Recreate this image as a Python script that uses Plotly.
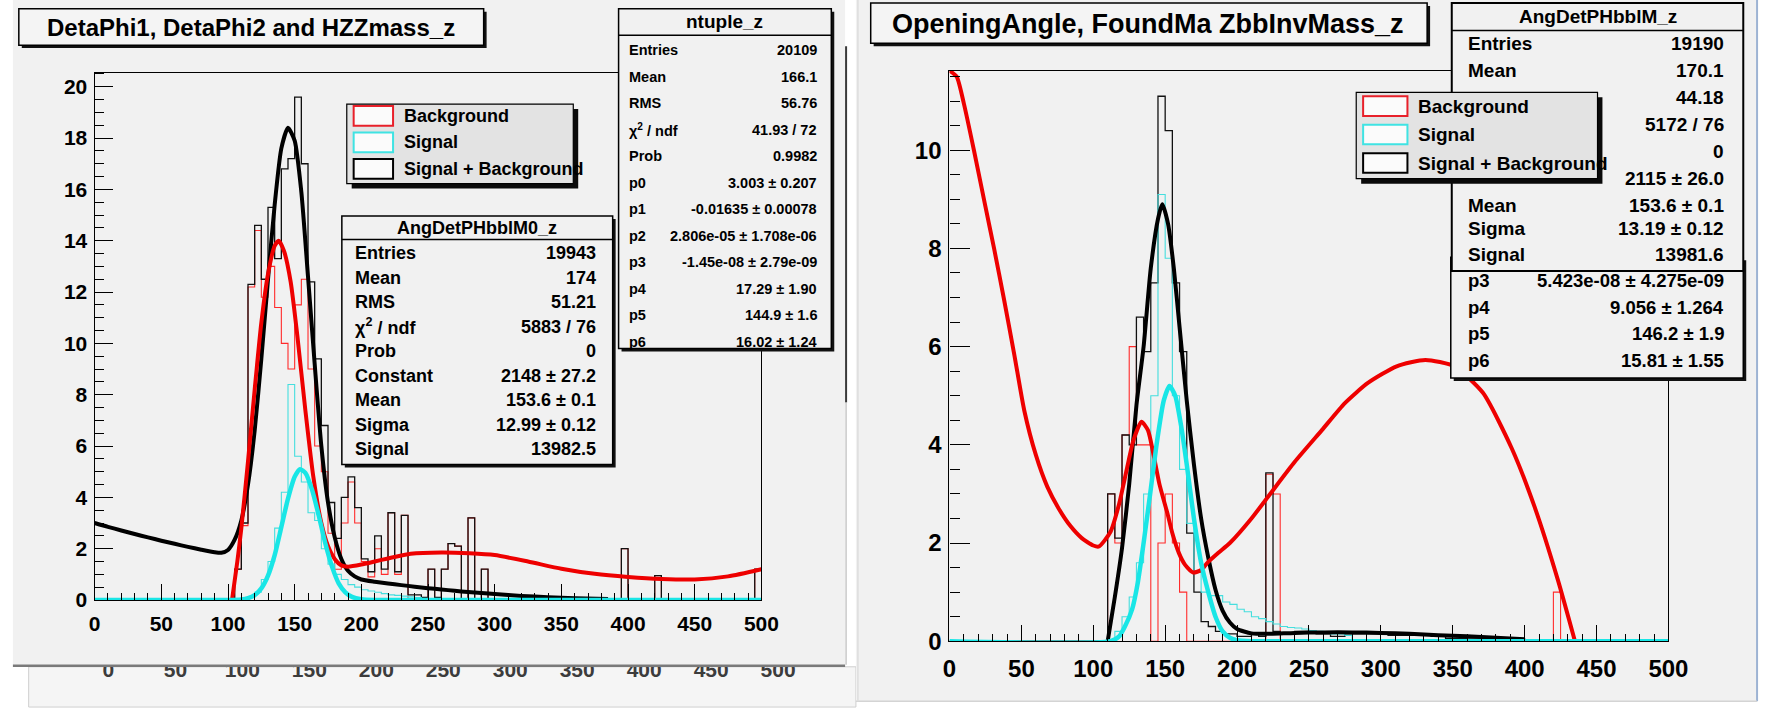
import plotly.graph_objects as go

W, H = 1781, 722
FONT = "Liberation Sans"
PAD = "#f1f1f1"

# ---------------- data : left panel (DetaPhi1, DetaPhi2 and HZZmass_z) ----------------
BIN_W = 5.0
L_bkg_lo = [105, 110, 115, 120, 125, 130, 135, 140, 145, 150, 155, 160, 165, 170, 175, 180, 185, 190, 195, 200,
            205, 210, 215, 220, 225, 230, 250, 260, 265, 270, 280, 290, 395, 420, 495]
L_bkg_val = [1.2, 2.9, 12.2, 14.4, 11.8, 13.0, 11.4, 10.0, 9.0, 11.5, 12.5, 9.0, 6.0, 5.0, 2.6, 1.2, 3.0, 4.6, 3.0, 1.5,
             0.9, 2.0, 1.0, 3.4, 1.0, 3.3, 1.2, 1.2, 2.2, 2.1, 3.2, 1.2, 2.0, 0.95, 1.2]
L_tot_lo = [105, 110, 115, 120, 125, 130, 135, 140, 145, 150, 155, 160, 165, 170, 175, 180, 185, 190, 195, 200,
            205, 210, 215, 220, 225, 230, 235, 240, 245, 250, 255, 260, 265, 270, 280, 290, 395, 420, 495]
L_tot_val = [1.2, 3.0, 12.3, 14.6, 12.5, 15.3, 13.3, 16.8, 17.2, 19.6, 17.0, 12.4, 9.4, 6.8, 3.8, 2.4, 4.0, 4.8, 3.6, 1.6,
             1.1, 2.5, 1.2, 3.4, 1.1, 3.3, 0.2, 0.2, 0.1, 1.2, 0.1, 1.2, 2.2, 2.1, 3.2, 1.2, 2.0, 0.95, 1.2]
L_sig_lo = [115, 120, 125, 130, 135, 140, 145, 150, 155, 160, 165, 170, 175, 180, 185, 190, 195, 200, 205, 210,
            215, 220, 225, 230, 235, 240]
L_sig_val = [0.1, 0.3, 0.8, 1.5, 2.8, 4.2, 8.4, 5.6, 4.6, 3.4, 3.1, 2.0, 1.4, 1.0, 0.8, 0.6, 0.5, 0.4, 0.35, 0.3,
             0.25, 0.2, 0.18, 0.15, 0.12, 0.1]

L_tot_fx = [0, 10, 20, 30, 40, 50, 60, 70, 80, 90, 95, 100, 105, 110, 115, 120, 125, 130, 135, 140,
            145, 150, 155, 160, 165, 170, 175, 180, 185, 190, 195, 200, 210, 220, 230, 240, 250, 260, 270, 280,
            290, 300, 320, 340, 360, 385]
L_tot_fy = [3.0, 2.85, 2.71, 2.57, 2.44, 2.31, 2.19, 2.07, 1.96, 1.86, 1.84, 1.95, 2.35, 3.1, 4.5, 6.6, 9.4, 12.5, 15.4, 17.6,
            18.4, 17.9, 15.9, 12.6, 9.2, 6.0, 3.8, 2.45, 1.6, 1.14, 0.92, 0.8, 0.71, 0.64, 0.58, 0.52, 0.46, 0.41, 0.36, 0.31,
            0.27, 0.23, 0.16, 0.11, 0.07, 0.04]
L_bkg_fx = [103, 107, 110, 115, 120, 125, 130, 135, 138, 142, 147, 152, 158, 164, 170, 175, 180, 185, 190, 200,
            210, 220, 237, 260, 281, 300, 325, 350, 375, 400, 425, 450, 475, 500]
L_bkg_fy = [0.0, 1.5, 2.8, 5.4, 8.2, 10.8, 12.7, 13.8, 14.0, 13.6, 12.4, 10.3, 7.4, 4.8, 3.0, 2.1, 1.6, 1.35, 1.3, 1.38,
            1.5, 1.62, 1.8, 1.85, 1.82, 1.75, 1.5, 1.22, 1.02, 0.9, 0.82, 0.8, 0.92, 1.2]
L_sig_fx = [0, 100, 110, 115, 120, 125, 130, 135, 140, 145, 150, 154, 158, 163, 168, 173, 178, 183, 188, 193,
            200, 210, 500]
L_sig_fy = [0, 0, 0.02, 0.07, 0.19, 0.45, 0.95, 1.75, 2.85, 3.95, 4.8, 5.1, 4.95, 4.3, 3.3, 2.2, 1.3, 0.65, 0.3, 0.12,
            0.03, 0, 0]

# ---------------- data : right panel (OpeningAngle, FoundMa ZbbInvMass_z) ----------------
R_bkg_lo = [110, 115, 120, 125, 130, 135, 145, 150, 155, 160, 220, 225, 420]
R_bkg_val = [3.0, 2.0, 4.2, 6.0, 4.0, 4.0, 2.0, 3.0, 2.0, 1.0, 3.4, 3.0, 1.0]
R_tot_lo = [110, 115, 120, 125, 130, 135, 140, 145, 150, 155, 160, 165, 170, 175, 180, 185, 190, 195, 200, 205,
            210, 215, 220, 225, 230, 235, 240, 245, 250, 255, 260, 265, 270, 275, 280, 285, 290, 295, 300, 305,
            310, 315, 320, 325, 330, 335, 340, 345, 350, 355, 360, 365, 370, 375, 380, 385, 390, 395]
R_tot_val = [3.0, 2.1, 4.2, 4.0, 6.6, 5.9, 7.3, 11.1, 10.4, 7.3, 5.9, 2.2, 1.0, 0.4, 0.3, 0.2, 0.15, 0.15, 0.1, 0.1,
             0.15, 0.1, 3.43, 0.2, 0.15, 0.15, 0.2, 0.2, 0.2, 0.15, 0.15, 0.1, 0.1, 0.15, 0.15, 0.15, 0.15, 0.15, 0.15, 0.12,
             0.12, 0.12, 0.12, 0.12, 0.12, 0.1, 0.1, 0.06, 0.06, 0.06, 0.05, 0.05, 0.05, 0.05, 0.05, 0.05, 0.05, 0.05]
R_sig_lo = [115, 120, 125, 130, 135, 140, 145, 150, 155, 160, 165, 170, 175, 180, 185, 190, 195, 200, 205, 210,
            215, 220, 225, 230, 235, 240, 245, 250, 255, 260, 265, 270, 275]
R_sig_val = [0.2, 0.5, 0.9, 1.6, 3.0, 5.0, 9.1, 7.8, 5.0, 3.5, 2.4, 1.4, 1.0, 0.93, 0.93, 0.8, 0.75, 0.65, 0.6, 0.5,
             0.46, 0.4, 0.35, 0.3, 0.28, 0.27, 0.25, 0.22, 0.2, 0.18, 0.15, 0.15, 0.12]

R_bkg_fx = [0, 5, 10, 17, 25, 31, 38, 45, 52, 60, 68, 76, 84, 92, 100, 104, 112, 118, 123.5, 128,
            133.5, 138, 141.5, 146, 151.6, 155, 159.5, 164, 169.5, 175, 179.5, 187, 195, 210, 223, 240, 259, 275, 291, 311,
            331, 351, 371, 391, 407, 423, 435]
R_bkg_fy = [11.62, 11.5, 10.95, 10.0, 8.85, 8.0, 6.95, 5.85, 4.7, 3.8, 3.15, 2.7, 2.35, 2.1, 1.95, 1.93, 2.23, 2.8, 3.53, 4.1,
            4.47, 4.3, 3.86, 3.2, 2.6, 2.2, 1.8, 1.55, 1.4, 1.45, 1.6, 1.8, 2.0, 2.5, 3.0, 3.65, 4.3, 4.85, 5.26, 5.6,
            5.73, 5.6, 5.06, 3.93, 2.73, 1.26, 0.0]
R_tot_fx = [110, 115, 120, 125, 130, 135, 140, 145, 148, 152, 156, 160, 165, 170, 175, 180, 185, 190, 195, 200,
            210, 220, 240, 260, 280, 300, 320, 340, 360, 380, 400]
R_tot_fy = [0.0, 0.9, 1.9, 3.2, 4.8, 6.0, 7.6, 8.6, 8.9, 8.5, 7.6, 6.4, 4.9, 3.6, 2.5, 1.7, 1.05, 0.62, 0.38, 0.25,
            0.16, 0.15, 0.17, 0.18, 0.18, 0.17, 0.15, 0.12, 0.1, 0.07, 0.04]
R_sig_fx = [0, 112, 118, 122, 127, 131, 135, 140, 144, 149, 153, 157, 161, 165, 170, 175, 180, 185, 190, 195,
            200, 210, 500]
R_sig_fy = [0, 0, 0.1, 0.3, 0.65, 1.2, 2.0, 3.1, 4.0, 4.9, 5.2, 5.0, 4.4, 3.6, 2.5, 1.6, 1.0, 0.5, 0.2, 0.07,
            0.02, 0, 0]

X_TICKS = [0, 50, 100, 150, 200, 250, 300, 350, 400, 450, 500]
L_Y_TICKS = [0, 2, 4, 6, 8, 10, 12, 14, 16, 18, 20]
R_Y_TICKS = [0, 2, 4, 6, 8, 10]

# stats boxes text
NT_LABELS = ["Entries", "Mean", "RMS", "χ<sup>2</sup> / ndf", "Prob", "p0", "p1", "p2", "p3", "p4", "p5", "p6"]
NT_VALUES = ["20109", "166.1", "56.76", "41.93 / 72", "0.9982", "3.003 ± 0.207", "-0.01635 ± 0.00078",
             "2.806e-05 ± 1.708e-06", "-1.45e-08 ± 2.79e-09", "17.29 ± 1.90", "144.9 ± 1.6", "16.02 ± 1.24"]
M0_LABELS = ["Entries", "Mean", "RMS", "χ<sup>2</sup> / ndf", "Prob", "Constant", "Mean", "Sigma", "Signal"]
M0_VALUES = ["19943", "174", "51.21", "5883 / 76", "0", "2148 ± 27.2", "153.6 ± 0.1", "12.99 ± 0.12", "13982.5"]
M_LABELS = ["Entries", "Mean", "", "", "", "", "Mean", "Sigma", "Signal"]
M_VALUES = ["19190", "170.1", "44.18", "5172 / 76", "0", "2115 ± 26.0", "153.6 ± 0.1", "13.19 ± 0.12", "13981.6"]
MP_LABELS = ["p3", "p4", "p5", "p6"]
MP_VALUES = ["5.423e-08 ± 4.275e-09", "9.056 ± 1.264", "146.2 ± 1.9", "15.81 ± 1.55"]
LEG_LABELS = ["Background", "Signal", "Signal + Background"]
LEG_COLORS = ["#e8202a", "#3fe3e3", "#000000"]


def px(x):
    return x / W


def py(y):
    return 1 - y / H


def hist_steps(lo_list, vals, nbins=100):
    y = [0.0] * nbins
    for lo, v in zip(lo_list, vals):
        y[int(round(lo / BIN_W))] = v
    x = [i * BIN_W for i in range(nbins + 1)]
    return x, y + [y[-1]]


fig = go.Figure()


def add_hist(lo, vals, color, width, xa, ya):
    x, y = hist_steps(lo, vals)
    fig.add_trace(go.Scatter(x=x, y=y, mode="lines", line=dict(color=color, width=width, shape="hv"),
                             xaxis=xa, yaxis=ya, hoverinfo="skip", showlegend=False))


def add_curve(x, y, color, width, xa, ya):
    fig.add_trace(go.Scatter(x=x, y=y, mode="lines",
                             line=dict(color=color, width=width, shape="spline", smoothing=0.6),
                             xaxis=xa, yaxis=ya, hoverinfo="skip", showlegend=False))


RED_H, CYAN_H = "#ff2b2b", "#45dede"
RED_C, CYAN_C = "#ee0000", "#19e6e6"

# left
add_hist(L_bkg_lo, L_bkg_val, RED_H, 1.1, "x", "y")
add_hist(L_tot_lo, L_tot_val, "#111111", 1.3, "x", "y")
add_hist(L_sig_lo, L_sig_val, CYAN_H, 1.1, "x", "y")
add_curve(L_tot_fx, L_tot_fy, "#000000", 4, "x", "y")
add_curve(L_bkg_fx, L_bkg_fy, RED_C, 4, "x", "y")
add_curve(L_sig_fx, L_sig_fy, CYAN_C, 4.5, "x", "y")
# right
add_hist(R_bkg_lo, R_bkg_val, RED_H, 1.1, "x2", "y2")
add_hist(R_tot_lo, R_tot_val, "#111111", 1.3, "x2", "y2")
add_hist(R_sig_lo, R_sig_val, CYAN_H, 1.1, "x2", "y2")
add_curve(R_tot_fx, R_tot_fy, "#000000", 4, "x2", "y2")
add_curve(R_bkg_fx, R_bkg_fy, RED_C, 4, "x2", "y2")
add_curve(R_sig_fx, R_sig_fy, CYAN_C, 4.5, "x2", "y2")
# ghost tick labels peeking out below the left pad (clipped by their own small subplot)
fig.add_trace(go.Scatter(x=X_TICKS, y=[0.62] * len(X_TICKS), mode="text", text=[str(v) for v in X_TICKS],
                         textposition="middle center", cliponaxis=True,
                         textfont=dict(family=FONT, size=21, color="#3c3c3c", weight="bold"),
                         xaxis="x3", yaxis="y3", hoverinfo="skip", showlegend=False))

shapes = []
annotations = []


def rect(x0, y0, x1, y1, fill="rgba(0,0,0,0)", lc="rgba(0,0,0,0)", lw=0, layer="above"):
    shapes.append(dict(type="rect", xref="paper", yref="paper", x0=px(x0), x1=px(x1), y0=py(y1), y1=py(y0),
                       fillcolor=fill, line=dict(color=lc, width=lw), layer=layer))


def seg(x0, y0, x1, y1, color, lw, layer="above"):
    shapes.append(dict(type="line", xref="paper", yref="paper", x0=px(x0), x1=px(x1), y0=py(y0), y1=py(y1),
                       line=dict(color=color, width=lw), layer=layer))


def text(x, y, s, size, anchor="left", color="black", bold=True):
    annotations.append(dict(x=px(x), y=py(y), xref="paper", yref="paper", text=s, showarrow=False,
                            xanchor=anchor, yanchor="middle",
                            font=dict(family=FONT, size=size, color=color, weight="bold" if bold else "normal")))


# ---- background pads ----
rect(6, 0, 851, 677, fill=PAD, layer="below")
rect(22, 679, 862, 720, fill="#f5f5f5", lc="#cfcfcf", lw=1, layer="below")
rect(862, 0, 1777, 714, fill=PAD, layer="below")
seg(1777, 0, 1777, 714, "#9db3d3", 2, layer="below")
seg(862, 714, 1777, 714, "#d4d4d4", 1.5, layer="below")
seg(864, 0, 864, 714, "#dddddd", 1.5, layer="below")

# pad bottom edge and right-hand edge lines
seg(6, 678, 851, 678, "#7a7a7a", 2.5)
seg(852, 47, 852, 410, "#3a3a3a", 2)
seg(852, 410, 852, 677, "#c8c8c8", 1.5)


def box(x0, y0, x1, y1, fill=PAD, shadow=3, lw=1.5):
    if shadow:
        rect(x0 + shadow, y0 + shadow, x1 + shadow, y1 + shadow, fill="#111111")
    rect(x0, y0, x1, y1, fill=fill, lc="#000000", lw=lw)


# ---- titles ----
box(12, 9, 484, 46, fill="#f4f4f4", shadow=3)
text(248, 28, "DetaPhi1, DetaPhi2 and HZZmass_z", 24, anchor="center")
box(877, 3, 1442, 44, fill="#f4f4f4", shadow=3)
text(1159, 24, "OpeningAngle, FoundMa ZbbInvMass_z", 27, anchor="center")

# ---- left: AngDetPHbblM0_z stats ----
box(340, 220, 615, 473, shadow=3)
seg(340, 244, 615, 244, "#000000", 1.5)
text(477, 232, "AngDetPHbblM0_z", 18, anchor="center")
for i, (lab, val) in enumerate(zip(M0_LABELS, M0_VALUES)):
    yy = 258 + i * 24.9
    text(351, yy, lab, 18)
    text(600, yy, val, 18, anchor="right")

# ---- left: ntuple_z stats ----
box(621, 9, 837, 355, shadow=3)
seg(621, 36, 837, 36, "#000000", 1.5)
text(729, 22, "ntuple_z", 19, anchor="center")
for i, (lab, val) in enumerate(zip(NT_LABELS, NT_VALUES)):
    yy = 51 + i * 27.0
    text(630, yy, lab, 14.5)
    text(824, yy, val, 14.5, anchor="right")


# ---- legends ----
def legend(x0, y0, x1, y1, mx0, mx1, rows, mh, tx, size, sh):
    rect(x0 + sh, y0 + sh, x1 + sh, y1 + sh, fill="#0a0a0a")
    rect(x0, y0, x1, y1, fill="#e3e3e3", lc="#000000", lw=1.2)
    for (yc, lab, col) in zip(rows, LEG_LABELS, LEG_COLORS):
        rect(mx0, yc - mh / 2, mx1, yc + mh / 2, fill="#fbfbfb", lc=col, lw=2)
        text(tx, yc, lab, size)


legend(345, 106, 575, 187, 352, 392, [118, 145, 172], 20, 401, 18, 5)

# ---- right: stats boxes ----
box(1466, 262, 1763, 385, shadow=3)
for i, (lab, val) in enumerate(zip(MP_LABELS, MP_VALUES)):
    yy = 286 + i * 27.0
    text(1481, yy, lab, 18.5)
    text(1745, yy, val, 18.5, anchor="right")
box(1467, 3, 1763, 276, shadow=0, lw=2)
seg(1467, 31, 1763, 31, "#000000", 1.5)
text(1615, 17, "AngDetPHbblM_z", 19, anchor="center")
M_ROWS = [44, 72, 99, 127, 154, 182, 209, 233, 259]
for lab, val, yy in zip(M_LABELS, M_VALUES, M_ROWS):
    if lab:
        text(1481, yy, lab, 19)
    text(1745, yy, val, 19, anchor="right")

legend(1370, 94, 1615, 182, 1377, 1422, [108, 137, 166], 20, 1431, 19, 5)

# ---- axes ----
common = dict(showgrid=False, zeroline=False, showline=True, linecolor="black", linewidth=1.3, mirror=True,
              ticks="inside", tickcolor="black", tickwidth=1.3)
minor_x = dict(dtick=10, ticklen=7, ticks="inside", tickcolor="black", tickwidth=1)
minor_y = dict(dtick=0.5, ticklen=9, ticks="inside", tickcolor="black", tickwidth=1)

GX0, GX1 = 83, 803  # ghost label strip (x=0 sits at 103 px, x=500 at 783 px)
G_SCALE = (783 - 103) / 500.0

fig.update_layout(
    width=W, height=H, autosize=False,
    margin=dict(l=0, r=0, t=0, b=0),
    paper_bgcolor="#ffffff", plot_bgcolor=PAD,
    showlegend=False,
    xaxis=dict(domain=[px(89), px(766)], range=[0, 500], anchor="y", tickvals=X_TICKS, ticklen=16,
               minor=minor_x, ticklabelstandoff=5,
               tickfont=dict(family=FONT, size=21, color="black", weight="bold"), **common),
    yaxis=dict(domain=[py(611), py(74)], range=[0, 20.55], anchor="x", tickvals=L_Y_TICKS, ticklen=18,
               minor=minor_y, ticklabelstandoff=2,
               tickfont=dict(family=FONT, size=21, color="black", weight="bold"), **common),
    xaxis2=dict(domain=[px(957), px(1687)], range=[0, 500], anchor="y2", tickvals=X_TICKS, ticklen=16,
                minor=minor_x, ticklabelstandoff=6,
                tickfont=dict(family=FONT, size=24, color="black", weight="bold"), **common),
    yaxis2=dict(domain=[py(653), py(72)], range=[0, 11.62], anchor="x2", tickvals=R_Y_TICKS, ticklen=20,
                minor=dict(dtick=0.5, ticklen=10, ticks="inside", tickcolor="black", tickwidth=1),
                ticklabelstandoff=2,
                tickfont=dict(family=FONT, size=24, color="black", weight="bold"), **common),
    xaxis3=dict(domain=[px(GX0), px(GX1)], range=[-(103 - GX0) / G_SCALE, 500 + (GX1 - 783) / G_SCALE],
                anchor="y3", visible=False),
    yaxis3=dict(domain=[py(693), py(679)], range=[0, 1], anchor="x3", visible=False),
    shapes=shapes,
    annotations=annotations,
)

fig.write_html("out.html", config={"displayModeBar": False},
               post_script="document.body.style.margin='0px';document.body.style.overflow='hidden';")
